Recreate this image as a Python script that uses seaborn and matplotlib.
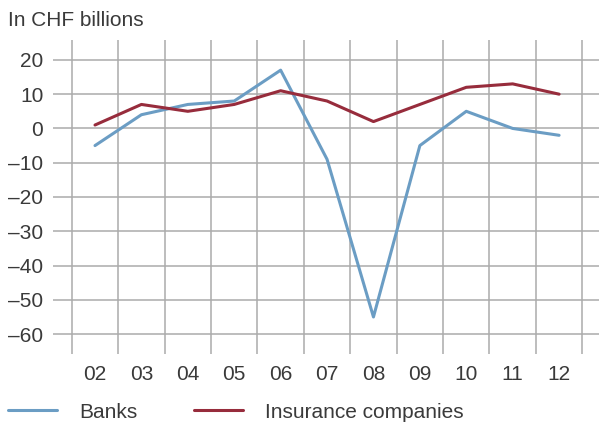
import matplotlib
matplotlib.use("Agg")
import matplotlib.pyplot as plt
import seaborn as sns
import pandas as pd
import numpy as np

years = ["02", "03", "04", "05", "06", "07", "08", "09", "10", "11", "12"]
banks = [-5, 4, 7, 8, 17, -9, -55, -5, 5, 0, -2]
insurance = [1, 7, 5, 7, 11, 8, 2, 7, 12, 13, 10]
series_names = ["Banks", "Insurance companies"]
y_ticks = [20, 10, 0, -10, -20, -30, -40, -50, -60]
y_tick_labels = ["20", "10", "0", "–10", "–20", "–30", "–40", "–50", "–60"]

colors = {"Banks": "#6b9dc4", "Insurance companies": "#972c3c"}
grid_color = "#ababab"
text_color = "#3a3a3a"
fsize = 15

sns.set_theme(style="white")
plt.rcParams["font.family"] = ["Liberation Sans", "DejaVu Sans"]

df = pd.DataFrame({
    "idx": list(range(len(years))) * 2,
    "value": banks + insurance,
    "series": [series_names[0]] * len(years) + [series_names[1]] * len(years),
})

fig = plt.figure(figsize=(5.99, 4.23), dpi=100)
ax = fig.add_axes([53 / 599, 1 - 354 / 423, 1 - 53 / 599, (354 - 40) / 423])

sns.lineplot(data=df, x="idx", y="value", hue="series", palette=colors,
             linewidth=2.2, ax=ax, legend=False, zorder=3)

ax.set_xlim(-0.905, 10.86)
ax.set_ylim(-65.8, 25.8)

ax.set_xticks(range(len(years)))
ax.set_xticklabels(years)
ax.set_xticks(np.arange(-0.5, len(years), 1.0), minor=True)
ax.set_yticks(y_ticks)
ax.set_yticklabels(y_tick_labels)

ax.grid(False)
ax.grid(True, which="minor", axis="x", color=grid_color, linewidth=1.1)
ax.grid(True, which="major", axis="y", color=grid_color, linewidth=1.1)
ax.tick_params(axis="both", which="both", length=0, labelsize=fsize,
               labelcolor=text_color)
ax.tick_params(axis="y", pad=7)
ax.tick_params(axis="x", pad=8)
for s in ax.spines.values():
    s.set_visible(False)
ax.set_xlabel("")
ax.set_ylabel("")

fig.text(8 / 599, 1 - 21 / 423, "In CHF billions", fontsize=fsize,
         color=text_color, va="center", ha="left")

handles = [plt.Line2D([], [], color=colors[n], linewidth=2.2) for n in series_names]
fig.legend(handles, series_names, loc="center left",
           bbox_to_anchor=(8 / 599, 1 - 412 / 423), ncol=2, frameon=False,
           fontsize=fsize, labelcolor=text_color, handlelength=2.35,
           handletextpad=1.05, columnspacing=2.75, borderaxespad=0,
           borderpad=0)

fig.savefig("out.png", dpi=100)
